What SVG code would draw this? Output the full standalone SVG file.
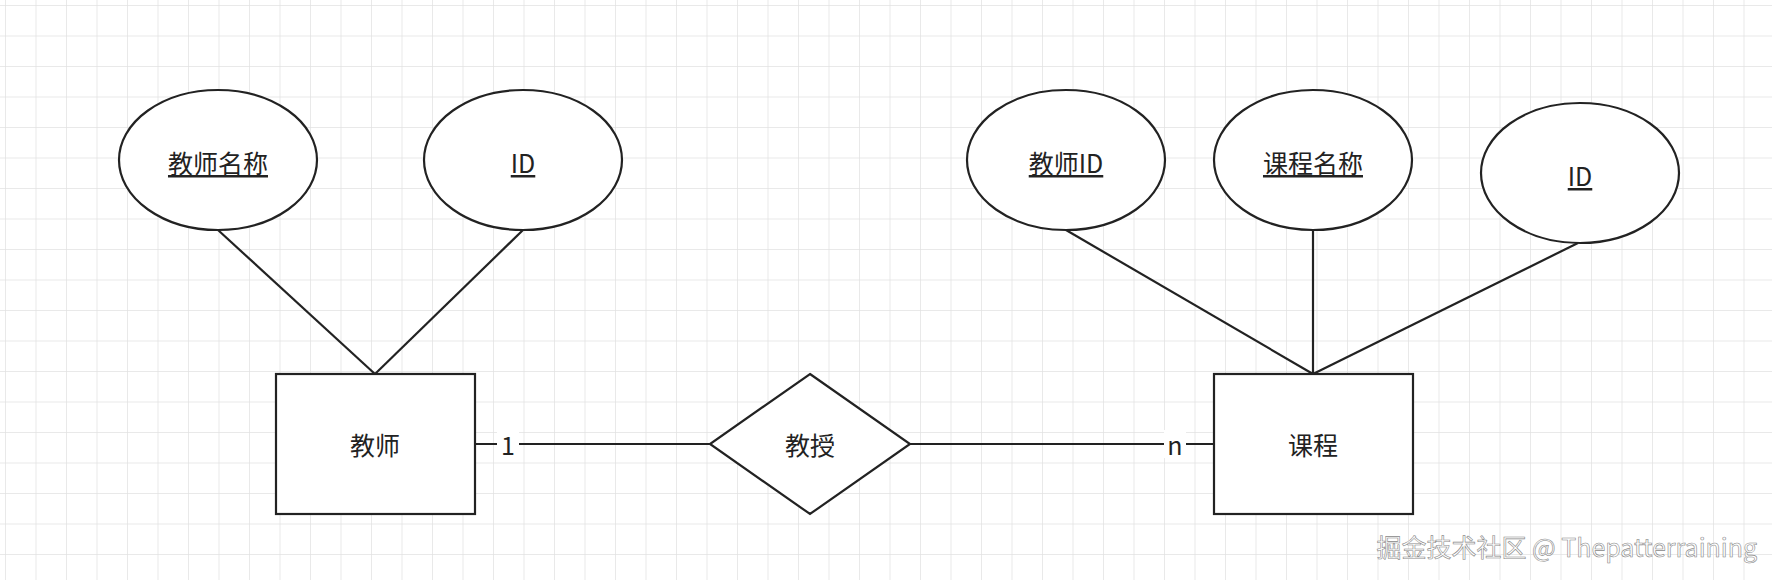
<svg xmlns="http://www.w3.org/2000/svg" width="1772" height="580" viewBox="0 0 1772 580">
<defs>
<pattern id="grid" x="6" y="6" width="30.5" height="30.5" patternUnits="userSpaceOnUse">
<path d="M30.5 0V30.5M0 30.5H30.5" fill="none" stroke="#e2e2e2" stroke-width="1.5"/>
</pattern>
<style>
.s{fill:#fff;stroke:#222;stroke-width:2.2}
.l{stroke:#222;stroke-width:2.2;fill:none}
.t{font-family:"Noto Sans CJK SC","Liberation Sans",sans-serif;font-size:25px;fill:#222;text-anchor:middle;dominant-baseline:central}
.u{text-decoration:underline}
</style>
</defs>
<rect width="1772" height="580" fill="#fff"/>
<rect width="1772" height="580" fill="url(#grid)"/>
<g id="connectors">
<line class="l" x1="218" y1="230" x2="375" y2="374"/>
<line class="l" x1="523" y1="230" x2="375" y2="374"/>
<line class="l" x1="1066" y1="230" x2="1313" y2="374"/>
<line class="l" x1="1313" y1="230" x2="1313" y2="374"/>
<line class="l" x1="1578" y1="243" x2="1313" y2="374"/>
<line class="l" x1="475" y1="444" x2="710" y2="444"/>
<line class="l" x1="910" y1="444" x2="1214" y2="444"/>
<rect x="497" y="430" width="22" height="28" fill="#fff"/>
<text class="t" x="508" y="444">1</text>
<rect x="1164" y="430" width="22" height="28" fill="#fff"/>
<text class="t" x="1175" y="444">n</text>
</g>
<g id="attr-teacher-name"><ellipse class="s" cx="218" cy="160" rx="99" ry="70"/><text class="t u" x="218" y="162">教师名称</text></g>
<g id="attr-teacher-id"><ellipse class="s" cx="523" cy="160" rx="99" ry="70"/><text class="t u" x="523" y="162">ID</text></g>
<g id="attr-course-teacherid"><ellipse class="s" cx="1066" cy="160" rx="99" ry="70"/><text class="t u" x="1066" y="162">教师ID</text></g>
<g id="attr-course-name"><ellipse class="s" cx="1313" cy="160" rx="99" ry="70"/><text class="t u" x="1313" y="162">课程名称</text></g>
<g id="attr-course-id"><ellipse class="s" cx="1580" cy="173" rx="99" ry="70"/><text class="t u" x="1580" y="175">ID</text></g>
<g id="teacher"><rect class="s" x="276" y="374" width="199" height="140"/><text class="t" x="375" y="444">教师</text></g>
<g id="teach"><polygon class="s" points="810,374 910,444 810,514 710,444"/><text class="t" x="810" y="444">教授</text></g>
<g id="course"><rect class="s" x="1214" y="374" width="199" height="140"/><text class="t" x="1313" y="444">课程</text></g>
<text x="1757" y="546" font-family="Noto Sans CJK SC,Liberation Sans,sans-serif" font-size="25" fill="#fff" stroke="#888" stroke-width="0.6" text-anchor="end" dominant-baseline="central">掘金技术社区 @ Thepatterraining</text>
</svg>
